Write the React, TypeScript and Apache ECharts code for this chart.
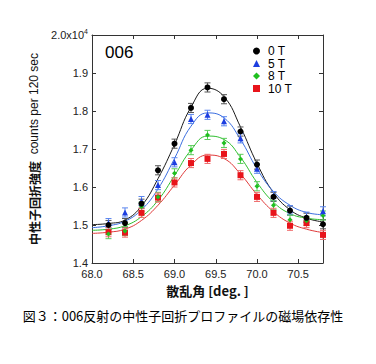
import React, { useEffect, useRef } from "react";
import * as echarts from "echarts";

// Measured angles (deg.)
const pointX = [68.2, 68.4, 68.6, 68.8, 69.0, 69.2, 69.4, 69.6, 69.8, 70.0, 70.2, 70.4, 70.6, 70.8];
// Measured intensities (counts per 120 sec)
const counts0T = [15000, 15050, 15560, 16440, 17140, 18080, 18620, 18310, 17460, 16590, 15740, 15380, 15190, 15020];
const counts5T = [15050, 15330, 15630, 16050, 16650, 17790, 17900, 17730, 17280, 16480, 15760, 15390, 15220, 15360];
const counts8T = [14760, 14840, 15480, 15740, 16360, 16970, 17370, 17160, 16740, 16020, 15520, 15140, 15110, 15250];
const counts10T = [14810, 14800, 15320, 15720, 16120, 16630, 16740, 16870, 16310, 15740, 15320, 14980, 15050, 14740];
const errorBar = 120;

// Fitted profile curves
const curveX = [68.0, 68.2, 68.4, 68.6, 68.8, 69.0, 69.2, 69.4, 69.6, 69.8, 70.0, 70.2, 70.4, 70.6, 70.8];
const fit0T = [15010, 15040, 15130, 15500, 16220, 17120, 18100, 18600, 18380, 17580, 16620, 15850, 15400, 15180, 15080];
const fit5T = [14930, 14980, 15100, 15400, 15950, 16750, 17600, 17950, 17820, 17250, 16480, 15880, 15520, 15330, 15270];
const fit8T = [14860, 14890, 14980, 15220, 15650, 16300, 16970, 17340, 17250, 16780, 16120, 15600, 15300, 15180, 15140];
const fit10T = [14780, 14810, 14890, 15120, 15520, 16050, 16580, 16840, 16750, 16340, 15800, 15350, 15050, 14890, 14800];

const seriesNames = ["0 T", "5 T", "8 T", "10 T"];
const xTicks = [68.0, 68.5, 69.0, 69.5, 70.0, 70.5];

const LATIN = "'Liberation Sans', Arial, sans-serif";
const CJK = "'Noto Sans CJK JP', sans-serif";

const pair = (xs: number[], ys: number[]) => xs.map((x, i) => [x, ys[i]]);

export default function App() {
  const ref = useRef<HTMLDivElement>(null);
  useEffect(() => {
    if (!ref.current) return;
    const chart = echarts.init(ref.current, undefined, { renderer: "svg" });

    const defs = [
      { name: seriesNames[0], pts: counts0T, fit: fit0T, color: "#000000", line: "#1a1a1a", err: "#555555", symbol: "circle", size: 6 },
      { name: seriesNames[1], pts: counts5T, fit: fit5T, color: "#1d3ee0", line: "#3b6ee0", err: "#5b86ee", symbol: "triangle", size: 6 },
      { name: seriesNames[2], pts: counts8T, fit: fit8T, color: "#1fbf1f", line: "#2ebf2e", err: "#5ccc5c", symbol: "diamond", size: 5 },
      { name: seriesNames[3], pts: counts10T, fit: fit10T, color: "#e8141b", line: "#e03838", err: "#ef6a6a", symbol: "rect", size: 6 },
    ];

    const lineSeries = defs.map((d) => ({
      type: "line",
      data: pair(curveX, d.fit),
      smooth: 0.45,
      showSymbol: false,
      symbol: "none",
      lineStyle: { color: d.line, width: 1 },
      z: 2,
      silent: true,
    }));

    const errSeries = defs.map((d) => ({
      type: "custom",
      data: pair(pointX, d.pts),
      encode: { x: 0, y: 1 },
      z: 3,
      silent: true,
      renderItem: (params: any, api: any) => {
        const x = api.value(0);
        const y = api.value(1);
        const top = api.coord([x, y + errorBar]);
        const bot = api.coord([x, y - errorBar]);
        const cx = top[0];
        const w = 3;
        const st = { stroke: d.err, lineWidth: 1 };
        return {
          type: "group",
          children: [
            { type: "line", shape: { x1: cx, y1: top[1], x2: cx, y2: bot[1] }, style: st },
            { type: "line", shape: { x1: cx - w, y1: top[1], x2: cx + w, y2: top[1] }, style: st },
            { type: "line", shape: { x1: cx - w, y1: bot[1], x2: cx + w, y2: bot[1] }, style: st },
          ],
        };
      },
    }));

    const order = [3, 2, 1, 0];
    const scatterSeries = order.map((i) => {
      const d = defs[i];
      return {
        name: d.name,
        type: "scatter",
        data: pair(pointX, d.pts),
        symbol: d.symbol,
        symbolSize: d.size,
        itemStyle: { color: d.color, opacity: 1 },
        z: 4,
      };
    });

    const axisLine = { show: true, lineStyle: { color: "#333", width: 1 } };
    const tickIn = { show: true, inside: true, length: 4, lineStyle: { color: "#333" } };

    chart.setOption({
      animation: false,
      backgroundColor: "#fff",
      grid: { left: 92, top: 35, width: 231, height: 228, containLabel: false },
      legend: {
        data: seriesNames.map((n, i) => ({ name: n, icon: ["circle", "triangle", "diamond", "rect"][i] })),
        orient: "vertical",
        left: 248,
        top: 40,
        itemWidth: 7,
        itemHeight: 7,
        itemGap: 0.5,
        padding: 5,
        selectedMode: false,
        textStyle: { fontFamily: LATIN, fontSize: 12, color: "#000", lineHeight: 12, padding: [0, 0, 0, 3] },
      },
      xAxis: [
        {
          type: "value",
          min: 68,
          max: 70.8,
          interval: 0.5,
          position: "bottom",
          axisLine,
          axisTick: tickIn,
          splitLine: { show: false },
          axisLabel: {
            show: true,
            margin: 5,
            showMaxLabel: false,
            fontFamily: LATIN,
            fontSize: 11,
            color: "#222",
            formatter: (v: number) => (xTicks.some((t) => Math.abs(t - v) < 1e-6) ? v.toFixed(1) : ""),
          },
          name: "散乱角 [deg. ]",
          nameLocation: "middle",
          nameGap: 21,
          nameTextStyle: { fontFamily: CJK, fontSize: 13, fontWeight: "bold", color: "#111" },
        },
        {
          type: "value",
          min: 68,
          max: 70.8,
          interval: 0.5,
          position: "top",
          axisLine,
          axisTick: tickIn,
          axisLabel: { show: false },
          splitLine: { show: false },
        },
      ],
      yAxis: [
        {
          type: "value",
          min: 14000,
          max: 20000,
          interval: 1000,
          position: "left",
          axisLine,
          axisTick: tickIn,
          splitLine: { show: false },
          axisLabel: {
            margin: 4,
            fontFamily: LATIN,
            fontSize: 11,
            color: "#222",
            formatter: (v: number) => (v >= 20000 ? "{b|2.0x10}{s|4}" : (v / 10000).toFixed(1)),
            rich: {
              b: { fontFamily: LATIN, fontSize: 11, color: "#222", lineHeight: 14 },
              s: { fontFamily: LATIN, fontSize: 7, color: "#222", verticalAlign: "top", padding: [0, 0, 6, 0] },
            },
          },
          name: "{j|中性子回折強度}{l|  counts per 120 sec}",
          nameLocation: "middle",
          nameRotate: 90,
          nameGap: 33,
          nameTextStyle: {
            rich: {
              j: { fontFamily: CJK, fontSize: 12, fontWeight: "bold", color: "#111" },
              l: { fontFamily: LATIN, fontSize: 12, color: "#111" },
            },
          },
        },
        {
          type: "value",
          min: 14000,
          max: 20000,
          interval: 1000,
          position: "right",
          axisLine,
          axisTick: tickIn,
          axisLabel: { show: false },
          splitLine: { show: false },
        },
      ],
      graphic: [
        {
          type: "text",
          left: 105,
          top: 44,
          style: { text: "006", fontFamily: LATIN, fontSize: 17, fill: "#000" },
        },
        {
          type: "text",
          x: 183,
          y: 315,
          style: {
            text: "図３：006反射の中性子回折プロファイルの磁場依存性",
            fontFamily: CJK,
            fontSize: 13,
            fill: "#000",
            align: "center",
            verticalAlign: "middle",
          },
        },
      ],
      series: [...lineSeries, ...errSeries, ...scatterSeries],
    });

    return () => chart.dispose();
  }, []);

  return (
    <div
      ref={ref}
      style={{ position: "fixed", left: 0, top: 0, width: 376, height: 364, background: "#fff" }}
    />
  );
}
